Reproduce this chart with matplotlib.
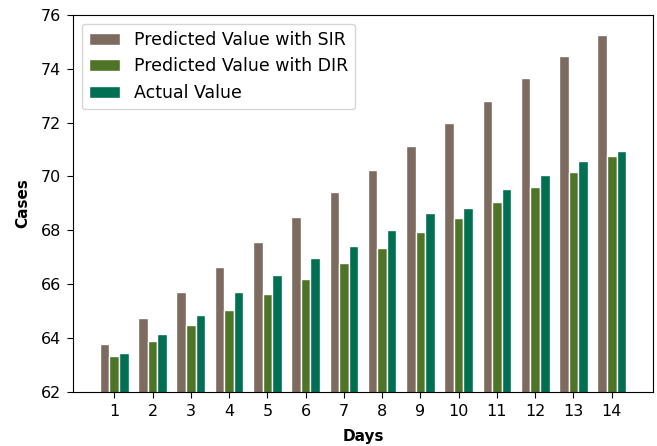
import numpy as np
import matplotlib
matplotlib.use('Agg')
import matplotlib.pyplot as plt

days = np.arange(1, 15)
sir = [63.76, 64.73, 65.69, 66.65, 67.55, 68.5, 69.41, 70.24, 71.15, 71.98, 72.82, 73.65, 74.48, 75.26]
dir_ = [63.32, 63.88, 64.47, 65.05, 65.62, 66.19, 66.78, 67.35, 67.93, 68.45, 69.04, 69.6, 70.18, 70.76]
actual = [63.43, 64.14, 64.85, 65.69, 66.33, 66.97, 67.43, 68.0, 68.63, 68.84, 69.54, 70.06, 70.57, 70.96]

w = 0.25 # bar width

fig = plt.figure(figsize=(6.57, 4.46), dpi=100)
ax = fig.add_axes([0.1116, 0.122, 0.8824, 0.844])
ax.bar(days - w, sir, w, color='#7e6b5f', edgecolor='white', label='Predicted Value with SIR')
ax.bar(days, dir_, w, color='#4e7527', edgecolor='white', label='Predicted Value with DIR')
ax.bar(days + w, actual, w, color='#006f52', edgecolor='white', label='Actual Value')

ax.set_ylim(62, 76)
ax.set_xlim(-0.07, 15.08)
ax.set_xticks(days)
ax.tick_params(labelsize=11.5, length=4.5, pad=4.5)
ax.set_xlabel('Days', fontweight='bold', fontsize=11, labelpad=7)
ax.set_ylabel('Cases', fontweight='bold', fontsize=11, labelpad=7)
ax.legend(loc='upper left', fontsize=12.5, handlelength=1.8)

plt.savefig('out.png', dpi=100)
